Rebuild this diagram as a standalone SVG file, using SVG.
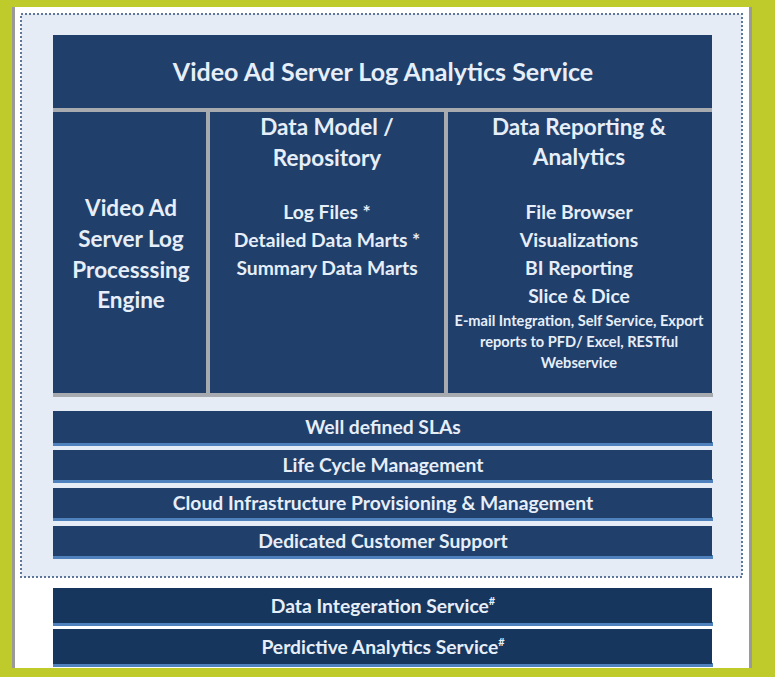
<svg xmlns="http://www.w3.org/2000/svg" width="775" height="677" viewBox="0 0 775 677">
<style>
.t{font-family:Lato,"Liberation Sans",sans-serif;font-weight:bold;fill:#e6eef9;text-anchor:middle}
.h{font-size:25px}
.m{font-size:22.5px}
.s{font-size:19.3px}
.x{font-size:14.6px}
.nav{fill:#203f6a}
.dk{fill:#17365d}
.gr{fill:#a7abb0}
.st{fill:#4f81bd}
</style>
<rect width="775" height="677" fill="#bfca2b"/>
<rect x="12" y="7" width="740" height="661" fill="#9a9a9a"/>
<rect x="15" y="7" width="734" height="661" fill="#ffffff"/>
<rect x="21" y="14" width="721" height="563" fill="#e6ecf6" stroke="#5d7699" stroke-width="2" stroke-dasharray="2 2"/>

<g id="main">
<rect x="53" y="393" width="660" height="4" class="gr"/>
<rect x="53" y="35" width="659" height="358" class="nav"/>
<rect x="53" y="108" width="659" height="4" class="gr"/>
</g>
<g id="header">
<text class="t h" x="383" y="81">Video Ad Server Log Analytics Service</text>
</g>
<g id="engine">
<rect x="206" y="112" width="4" height="281" class="gr"/>
<text class="t m" x="131" y="216">Video Ad</text>
<text class="t m" x="131" y="247">Server Log</text>
<text class="t m" x="131" y="278">Processsing</text>
<text class="t m" x="131" y="308">Engine</text>
</g>
<g id="repository">
<rect x="444" y="112" width="4" height="281" class="gr"/>
<text class="t m" x="327" y="135">Data Model /</text>
<text class="t m" x="327" y="166">Repository</text>
<text class="t s" x="327" y="219">Log Files *</text>
<text class="t s" x="327" y="247">Detailed Data Marts *</text>
<text class="t s" x="327" y="275">Summary Data Marts</text>
</g>
<g id="reporting">
<text class="t m" x="579" y="135">Data Reporting &amp;</text>
<text class="t m" x="579" y="165">Analytics</text>
<text class="t s" x="579" y="219">File Browser</text>
<text class="t s" x="579" y="247">Visualizations</text>
<text class="t s" x="579" y="275">BI Reporting</text>
<text class="t s" x="579" y="303">Slice &amp; Dice</text>
<text class="t x" x="579" y="326">E-mail Integration, Self Service, Export</text>
<text class="t x" x="579" y="347">reports to PFD/ Excel, RESTful</text>
<text class="t x" x="579" y="368">Webservice</text>
</g>
<g id="slas">
<rect x="53" y="442" width="660" height="4" class="st"/>
<rect x="53" y="411" width="659" height="32" class="nav"/>
<text class="t s" x="383" y="434">Well defined SLAs</text>
</g>
<g id="lifecycle">
<rect x="53" y="479" width="660" height="4" class="st"/>
<rect x="53" y="450" width="659" height="30" class="nav"/>
<text class="t s" x="383" y="472">Life Cycle Management</text>
</g>
<g id="cloud">
<rect x="53" y="517" width="660" height="4" class="st"/>
<rect x="53" y="488" width="659" height="30" class="nav"/>
<text class="t s" x="383" y="510">Cloud Infrastructure Provisioning &amp; Management</text>
</g>
<g id="support">
<rect x="53" y="555" width="660" height="4" class="st"/>
<rect x="53" y="526" width="659" height="30" class="nav"/>
<text class="t s" x="383" y="548">Dedicated Customer Support</text>
</g>
<g id="integration">
<rect x="53" y="622" width="660" height="4" class="st"/>
<rect x="53" y="588" width="659" height="35" class="dk"/>
<text class="t s" x="383" y="613">Data Integeration Service<tspan font-size="11" dy="-8">#</tspan></text>
</g>
<g id="predictive">
<rect x="53" y="663" width="660" height="4" class="st"/>
<rect x="53" y="629" width="659" height="35" class="dk"/>
<text class="t s" x="383" y="654">Perdictive Analytics Service<tspan font-size="11" dy="-8">#</tspan></text>
</g>
</svg>
